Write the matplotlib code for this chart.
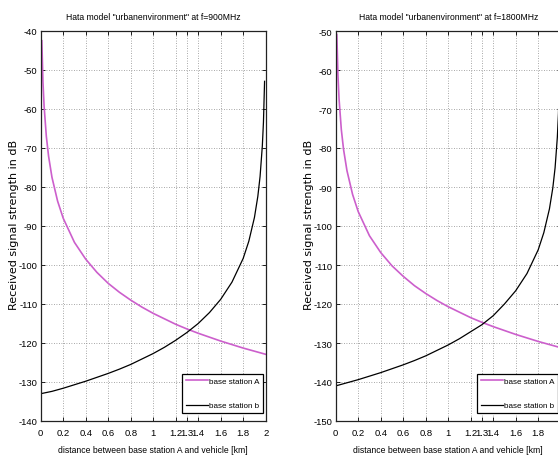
import matplotlib
matplotlib.use("Agg")
import matplotlib.pyplot as plt

plt.rcParams["axes.unicode_minus"] = False

# ---------------- data ----------------
# left panel, f = 900 MHz
x_a = [0.01, 0.02, 0.03, 0.05, 0.07, 0.10, 0.15, 0.20, 0.30, 0.40, 0.50, 0.60, 0.70,
       0.80, 0.90, 1.00, 1.10, 1.20, 1.30, 1.40, 1.50, 1.60, 1.70, 1.80, 1.90, 2.00]
a_900 = [-42.5, -53.0, -59.2, -67.0, -72.1, -77.5, -83.6, -88.0, -94.2, -98.5, -101.9,
         -104.7, -107.0, -109.0, -110.8, -112.4, -113.8, -115.2, -116.4, -117.5, -118.5,
         -119.5, -120.4, -121.3, -122.1, -122.9]
x_b = [0.00, 0.10, 0.20, 0.30, 0.40, 0.50, 0.60, 0.70, 0.80, 0.90, 1.00, 1.10, 1.20,
       1.30, 1.40, 1.50, 1.60, 1.70, 1.80, 1.85, 1.90, 1.93, 1.95, 1.97, 1.98, 1.99]
b_900 = [-133.0, -132.4, -131.6, -130.7, -129.8, -128.8, -127.8, -126.7, -125.5, -124.1,
         -122.7, -121.1, -119.3, -117.3, -115.0, -112.2, -108.8, -104.4, -98.3, -93.9,
         -87.8, -82.4, -77.3, -69.5, -63.4, -52.9]
# right panel, f = 1800 MHz
a_1800 = [-50.9, -61.4, -67.5, -75.3, -80.4, -85.8, -91.9, -96.3, -102.5, -106.8, -110.2,
          -112.9, -115.3, -117.3, -119.1, -120.7, -122.1, -123.5, -124.7, -125.8, -126.8,
          -127.8, -128.7, -129.6, -130.4, -131.2]
b_1800 = [-141.0, -140.2, -139.4, -138.5, -137.6, -136.6, -135.6, -134.5, -133.3, -131.9,
          -130.5, -128.9, -127.1, -125.3, -123.0, -120.0, -116.6, -112.2, -106.1, -101.7,
          -95.6, -90.2, -85.1, -77.3, -71.2, -60.7]

x_ticks = [0, 0.2, 0.4, 0.6, 0.8, 1.0, 1.2, 1.3, 1.4, 1.6, 1.8, 2.0]
x_ticklabels = ["0", "0.2", "0.4", "0.6", "0.8", "1", "1.2", "1.3", "1.4", "1.6", "1.8", "2"]
titles = ['Hata model "urbanenvironment" at f=900MHz',
          'Hata model "urbanenvironment" at f=1800MHz']
xlabel = "distance between base station A and vehicle [km]"
ylabel = "Received signal strength in dB"
legend_labels = ["base station A", "base station b"]
ylims = [(-140, -40), (-150, -50)]

# ---------------- style ----------------
narrow = "Liberation Sans"
magenta = "#cc5fcc"

fig = plt.figure(figsize=(5.58, 4.56), dpi=100)
W, H = 558.0, 456.0
axes_px = [(40.7, 32, 225, 390), (335.7, 32, 225, 390)]

panels = [(a_900, b_900), (a_1800, b_1800)]
for i, ((l, t, w, h), (ya, yb)) in enumerate(zip(axes_px, panels)):
    ax = fig.add_axes([l / W, 1 - (t + h) / H, w / W, h / H])
    ax.plot(x_a, ya, color=magenta, lw=1.2, label=legend_labels[0])
    ax.plot(x_b, yb, color="black", lw=0.9, label=legend_labels[1])
    ax.set_xlim(0, 2)
    ax.set_ylim(*ylims[i])
    ax.set_xticks(x_ticks)
    ax.set_xticklabels(x_ticklabels)
    ax.set_yticks(range(ylims[i][0], ylims[i][1] + 1, 10))
    ax.tick_params(direction="in", length=3, width=0.6, labelsize=6.8,
                   top=True, right=True)
    ax.tick_params(axis="x", pad=5)
    ax.tick_params(axis="y", pad=2.5)
    for lab in ax.get_xticklabels() + ax.get_yticklabels():
        lab.set_family(narrow)
    ax.grid(True, linestyle=(0, (1, 2)), color="#8a8a8a", lw=0.6)
    for s in ax.spines.values():
        s.set_linewidth(0.9)
        s.set_color("#222222")
    ax.set_title(titles[i], fontsize=6.2, family=narrow, pad=9)
    ax.set_xlabel(xlabel, fontsize=6.2, family=narrow, labelpad=6)
    ax.set_ylabel(ylabel, fontsize=8.0, family="DejaVu Sans")
    ax.yaxis.set_label_coords(-0.097, 0.505)
    leg = ax.legend(loc="lower right", bbox_to_anchor=(0.988, 0.0205),
                    borderaxespad=0, frameon=True, fancybox=False,
                    edgecolor="black", framealpha=1, handlelength=2.7,
                    labelspacing=2.1, handletextpad=0.15, borderpad=0.45,
                    prop={"family": narrow, "size": 5.8})
    leg.get_frame().set_linewidth(0.9)

fig.savefig("out.png", dpi=100)
